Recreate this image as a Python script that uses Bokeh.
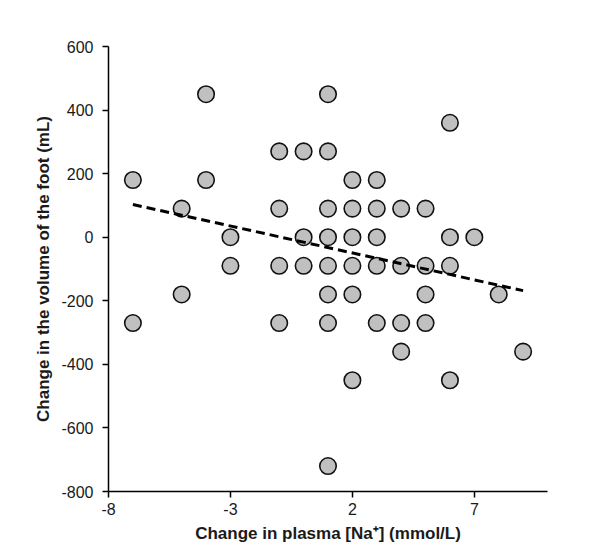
from bokeh.plotting import figure
from bokeh.models import FixedTicker, Range1d
from bokeh.embed import file_html
from bokeh.resources import INLINE

# Data
na_change = [-4, 1,
             6,
             -1, 0, 1,
             -7, -4, 2, 3,
             -5, -1, 1, 2, 3, 4, 5,
             -3, 0, 1, 2, 3, 6, 7,
             -3, -1, 0, 1, 2, 3, 4, 5, 6,
             -5, 1, 2, 5, 8,
             -7, -1, 1, 3, 4, 5,
             4, 9,
             2, 6,
             1]
vol_change = [450, 450,
              360,
              270, 270, 270,
              180, 180, 180, 180,
              90, 90, 90, 90, 90, 90, 90,
              0, 0, 0, 0, 0, 0, 0,
              -90, -90, -90, -90, -90, -90, -90, -90, -90,
              -180, -180, -180, -180, -180,
              -270, -270, -270, -270, -270, -270,
              -360, -360,
              -450, -450,
              -720]
trend_x = [-7, 9]
trend_y = [103, -168]

x_ticks = [-8, -3, 2, 7]
y_ticks = [-800, -600, -400, -200, 0, 200, 400, 600]

FONT = "Liberation Sans"

p = figure(width=600, height=556, output_backend="svg", toolbar_location=None,
           x_range=Range1d(-8, 10), y_range=Range1d(-800, 600),
           frame_width=439, frame_height=445,
           min_border_left=108, min_border_right=53,
           min_border_top=46, min_border_bottom=65)
p.outline_line_color = None
p.xgrid.visible = False
p.ygrid.visible = False
p.background_fill_color = "white"
p.border_fill_color = "white"

p.scatter(na_change, vol_change, size=16.5, fill_color="#c0c0c0",
          line_color="#111111", line_width=1.6)
p.line(trend_x, trend_y, line_color="black", line_width=3, line_dash="9 5")

for ax in (p.xaxis[0], p.yaxis[0]):
    ax.axis_line_color = "black"
    ax.axis_line_width = 1.5
    ax.major_tick_line_color = "black"
    ax.major_tick_line_width = 1.5
    ax.major_tick_out = 6
    ax.major_tick_in = 0
    ax.minor_tick_line_color = None
    ax.major_label_text_font = FONT
    ax.major_label_text_font_size = "16px"
    ax.major_label_text_color = "#1a1a1a"
    ax.axis_label_text_font = FONT
    ax.axis_label_text_font_size = "17px"
    ax.axis_label_text_font_style = "bold"
    ax.axis_label_text_color = "#1a1a1a"

p.xaxis[0].ticker = FixedTicker(ticks=x_ticks)
p.yaxis[0].ticker = FixedTicker(ticks=y_ticks)
p.xaxis[0].major_label_overrides = {t: str(t) for t in x_ticks}
p.yaxis[0].major_label_overrides = {t: str(t) for t in y_ticks}
p.xaxis[0].axis_label = "Change in plasma [Na⁺] (mmol/L)"
p.yaxis[0].axis_label = "Change in the volume of the foot (mL)"
p.xaxis[0].major_label_standoff = 5
p.yaxis[0].major_label_standoff = 9
p.xaxis[0].axis_label_standoff = 6
p.yaxis[0].axis_label_standoff = 5

open("out.html", "w").write(file_html(p, INLINE))
